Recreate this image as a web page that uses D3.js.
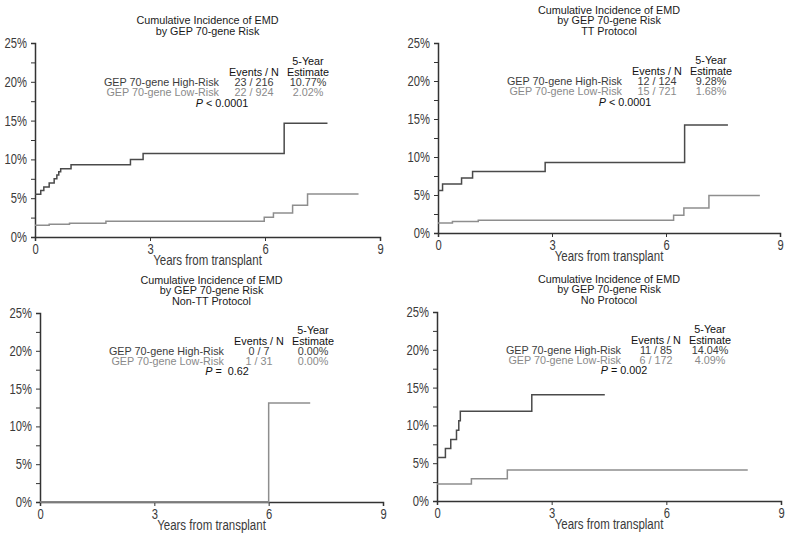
<!DOCTYPE html>
<html>
<head>
<meta charset="utf-8">
<script src="https://cdn.jsdelivr.net/npm/d3@7"></script>
<style>
  html, body { margin: 0; padding: 0; background: #fff; }
  svg { display: block; }
  .narrow { font-family: "Liberation Sans", Arial, Helvetica, sans-serif; }
  .reg { font-family: "Liberation Sans", Arial, Helvetica, sans-serif; }
</style>
</head>
<body>
<svg id="chart" width="790" height="537"></svg>
<script>
// ---------- DATA ----------
const xTicks = [0, 3, 6, 9];
const yTicks = [0, 5, 10, 15, 20, 25];
const yMinorTicks = [2.5, 7.5, 12.5, 17.5, 22.5];
const seriesNames = ["GEP 70-gene High-Risk", "GEP 70-gene Low-Risk"];
const titleLines = [
  ["Cumulative Incidence of EMD", "by GEP 70-gene Risk"],
  ["Cumulative Incidence of EMD", "by GEP 70-gene Risk", "TT Protocol"],
  ["Cumulative Incidence of EMD", "by GEP 70-gene Risk", "Non-TT Protocol"],
  ["Cumulative Incidence of EMD", "by GEP 70-gene Risk", "No Protocol"]
];
const eventsN = [["23 / 216", "22 / 924"], ["12 / 124", "15 / 721"], ["0 / 7", "1 / 31"], ["11 / 85", "6 / 172"]];
const estimates = [["10.77%", "2.02%"], ["9.28%", "1.68%"], ["0.00%", "0.00%"], ["14.04%", "4.09%"]];
const pValues = ["< 0.0001", "< 0.0001", "=  0.62", "= 0.002"];

// Panel 1: all patients
const allHighT = [0, 0.15, 0.23, 0.37, 0.50, 0.57, 0.62, 0.67, 0.94, 2.49, 2.82, 6.50, 7.63];
const allHighY = [5.5, 6.0, 6.45, 6.97, 7.5, 8.0, 8.4, 8.8, 9.3, 10.0, 10.75, 14.65, 14.65];
const allLowT  = [0, 0.37, 0.90, 1.85, 5.98, 6.22, 6.72, 7.11, 8.44];
const allLowY  = [1.5, 1.64, 1.77, 2.02, 2.55, 3.1, 4.1, 5.55, 5.55];
// Panel 2: TT protocol
const ttHighT = [0, 0.12, 0.62, 0.91, 2.82, 6.49, 7.63];
const ttHighY = [5.6, 6.45, 7.24, 8.1, 9.28, 14.2, 14.2];
const ttLowT  = [0, 0.38, 1.06, 6.20, 6.47, 7.13, 8.47];
const ttLowY  = [1.33, 1.52, 1.68, 2.32, 3.28, 4.94, 4.94];
// Panel 3: Non-TT protocol
const nonHighT = [0, 6.0];
const nonHighY = [0, 0];
const nonLowT  = [0, 6.0, 7.09];
const nonLowY  = [0, 13.1, 13.1];
// Panel 4: No protocol
const noHighT = [0, 0.22, 0.36, 0.51, 0.57, 0.61, 2.48, 4.39];
const noHighY = [5.75, 6.95, 8.14, 9.37, 10.6, 11.87, 14.04, 14.04];
const noLowT  = [0, 0.90, 1.84, 8.13];
const noLowY  = [2.25, 2.95, 4.09, 4.09];

const panelSeries = [
  [[allHighT, allHighY], [allLowT, allLowY]],
  [[ttHighT, ttHighY], [ttLowT, ttLowY]],
  [[nonHighT, nonHighY], [nonLowT, nonLowY]],
  [[noHighT, noHighY], [noLowT, noLowY]]
];

// ---------- LAYOUT ----------
const layout = [
  { left: 35, right: 380, top: 43, bottom: 237 },
  { left: 438, right: 780, top: 43, bottom: 233 },
  { left: 40, right: 383, top: 313, bottom: 502 },
  { left: 437, right: 781, top: 312, bottom: 501 }
];
const lineColors = ["#4a4a4a", "#8e8e8e"];
const textColors = ["#3c3c3c", "#8a8a8a"];
const axisColor = "#333";

const svg = d3.select("#chart");

// condense text horizontally (narrow typeface look)
function narrowify(sel, factor) {
  sel.each(function () {
    const w = this.getComputedTextLength();
    if (w > 0) {
      d3.select(this).attr("textLength", w * factor).attr("lengthAdjust", "spacingAndGlyphs");
    }
  });
}

layout.forEach((L, i) => {
  const x = d3.scaleLinear().domain([0, 9]).range([L.left, L.right]);
  const y = d3.scaleLinear().domain([0, 25]).range([L.bottom, L.top]);
  const g = svg.append("g");

  // Title
  const tl = titleLines[i];
  const cx = (L.left + L.right) / 2;
  tl.forEach((t, k) => {
    g.append("text").attr("class", "reg")
      .attr("x", cx)
      .attr("y", L.top - 8 - (tl.length - 1 - k) * 10.7)
      .attr("text-anchor", "middle")
      .attr("font-size", 10.8)
      .attr("fill", "#1a1a1a")
      .text(t);
  });

  // Y axis
  const yAxis = d3.axisLeft(y).tickValues(yTicks).tickSize(4).tickPadding(4).tickFormat(d => d + "%");
  const ya = g.append("g").attr("transform", `translate(${L.left},0)`).call(yAxis);
  ya.select(".domain").attr("stroke", axisColor).attr("stroke-width", 1.5);
  ya.selectAll(".tick line").attr("stroke", axisColor).attr("stroke-width", 1);
  const yt = ya.selectAll(".tick text").attr("class", "narrow").attr("font-size", 14).attr("fill", "#3a3a3a");
  narrowify(yt, 0.8);
  const yMinor = d3.axisLeft(y).tickValues(yMinorTicks).tickSize(4).tickFormat("");
  const ym = g.append("g").attr("transform", `translate(${L.left},0)`).call(yMinor);
  ym.select(".domain").remove();
  ym.selectAll(".tick line").attr("stroke", axisColor).attr("stroke-width", 1);

  // X axis
  const xAxis = d3.axisBottom(x).tickValues(xTicks).tickSize(4).tickPadding(3).tickFormat(d3.format("d"));
  const xa = g.append("g").attr("transform", `translate(0,${L.bottom})`).call(xAxis);
  xa.select(".domain").attr("stroke", axisColor).attr("stroke-width", 1.5);
  xa.selectAll(".tick line").attr("stroke", axisColor).attr("stroke-width", 1);
  const xt = xa.selectAll(".tick text").attr("class", "narrow").attr("font-size", 14).attr("fill", "#3a3a3a");
  narrowify(xt, 0.8);

  const xl = g.append("text").attr("class", "narrow")
    .attr("x", cx).attr("y", L.bottom + 27.5)
    .attr("text-anchor", "middle").attr("font-size", 14).attr("fill", "#3a3a3a")
    .text("Years from transplant");
  narrowify(xl, 0.82);

  // Curves
  const line = d3.line().curve(d3.curveStepAfter).x(d => x(d[0])).y(d => y(d[1]));
  panelSeries[i].forEach((s, k) => {
    const pts = s[0].map((t, j) => [t, s[1][j]]);
    g.append("path").datum(pts)
      .attr("d", line)
      .attr("fill", "none")
      .attr("stroke", lineColors[k])
      .attr("stroke-width", 1.5);
  });

  // Legend table
  const fs = 10.8;
  const colLabel = L.left + 184, colEv = L.left + 219, colEst = L.left + 273, colP = L.left + 187;
  const hdr = (txt, xx, val) => g.append("text").attr("class", "reg")
    .attr("x", xx).attr("y", y(val)).attr("text-anchor", "middle")
    .attr("font-size", fs).attr("fill", "#111").text(txt);
  hdr("5-Year", colEst, 22.2);
  hdr("Events / N", colEv, 20.8);
  hdr("Estimate", colEst, 20.8);
  const rowVals = [19.5, 18.15];
  seriesNames.forEach((nm, k) => {
    g.append("text").attr("class", "reg").attr("x", colLabel).attr("y", y(rowVals[k]))
      .attr("text-anchor", "end").attr("font-size", fs).attr("fill", textColors[k]).text(nm);
    g.append("text").attr("class", "reg").attr("x", colEv).attr("y", y(rowVals[k]))
      .attr("text-anchor", "middle").attr("font-size", fs).attr("fill", textColors[k]).text(eventsN[i][k]);
    g.append("text").attr("class", "reg").attr("x", colEst).attr("y", y(rowVals[k]))
      .attr("text-anchor", "middle").attr("font-size", fs).attr("fill", textColors[k]).text(estimates[i][k]);
  });
  const pt = g.append("text").attr("class", "reg").attr("x", colP).attr("y", y(16.75))
    .attr("text-anchor", "middle").attr("font-size", fs).attr("fill", "#111");
  pt.append("tspan").attr("font-style", "italic").text("P");
  pt.append("tspan").attr("xml:space", "preserve").style("white-space", "pre").text(" " + pValues[i]);
});
</script>
</body>
</html>
